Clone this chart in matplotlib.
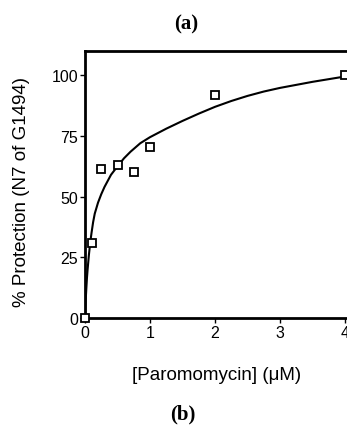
import matplotlib
matplotlib.use("Agg")
import matplotlib.pyplot as plt

# measured points
conc = [0.0, 0.1, 0.25, 0.5, 0.75, 1.0, 2.0, 4.0]
protection = [0.0, 31.0, 61.5, 63.0, 60.0, 70.5, 92.0, 100.0]

# fitted curve
curve_x = [0.0, 0.005, 0.01, 0.02, 0.03, 0.04, 0.06, 0.08, 0.1, 0.125, 0.15,
           0.2, 0.25, 0.3, 0.4, 0.5, 0.6, 0.7, 0.85, 1.0, 1.25, 1.5, 1.75,
           2.0, 2.25, 2.5, 2.75, 3.0, 3.5, 4.0, 4.05]
curve_y = [0.0, 3.5, 7.0, 12.0, 16.5, 20.0, 26.0, 31.0, 35.0, 39.5, 43.0,
           47.5, 51.0, 54.0, 59.0, 62.5, 65.8, 68.5, 72.0, 74.5, 78.0, 81.2,
           84.2, 87.0, 89.4, 91.5, 93.3, 94.8, 97.3, 99.5, 99.7]

xticks = [0, 1, 2, 3, 4]
yticks = [0, 25, 50, 75, 100]

plt.rcParams.update({'font.family': 'Liberation Sans', 'font.size': 11})

W, H = 347, 427
fig = plt.figure(figsize=(W / 100, H / 100), dpi=100)
ax = fig.add_axes([85 / W, (H - 319) / H, (W - 85) / W, (319 - 52) / H])

ax.plot(curve_x, curve_y, color='black', lw=1.5, zorder=3)
ax.plot(conc, protection, ls='none', marker='s', ms=6, mfc='white',
        mec='black', mew=1.3, clip_on=False, zorder=5)

ax.set_xlim(0, 4.03)
ax.set_ylim(0, 110)
ax.set_xticks(xticks)
ax.set_yticks(yticks)
ax.spines['right'].set_visible(False)
for s in ['left', 'bottom', 'top']:
    ax.spines[s].set_linewidth(2.0)
ax.tick_params(direction='out', length=3.5, width=1.0, labelsize=11.5, pad=1.5)

ax.text(0.504, -0.21, "[Paromomycin] (\u03bcM)", transform=ax.transAxes,
        ha='center', va='center', fontsize=13.5)
ax.text(-0.244, 0.476, "% Protection (N7 of G1494)", transform=ax.transAxes,
        ha='center', va='center', rotation=90, fontsize=13.5)

fig.text(186 / W, 1 - 24 / H, "(a)", ha='center', va='center',
         fontsize=15, fontweight='bold', family='Liberation Serif')
fig.text(183 / W, 1 - 414 / H, "(b)", ha='center', va='center',
         fontsize=15, fontweight='bold', family='Liberation Serif')

fig.savefig("out.png", dpi=100)
